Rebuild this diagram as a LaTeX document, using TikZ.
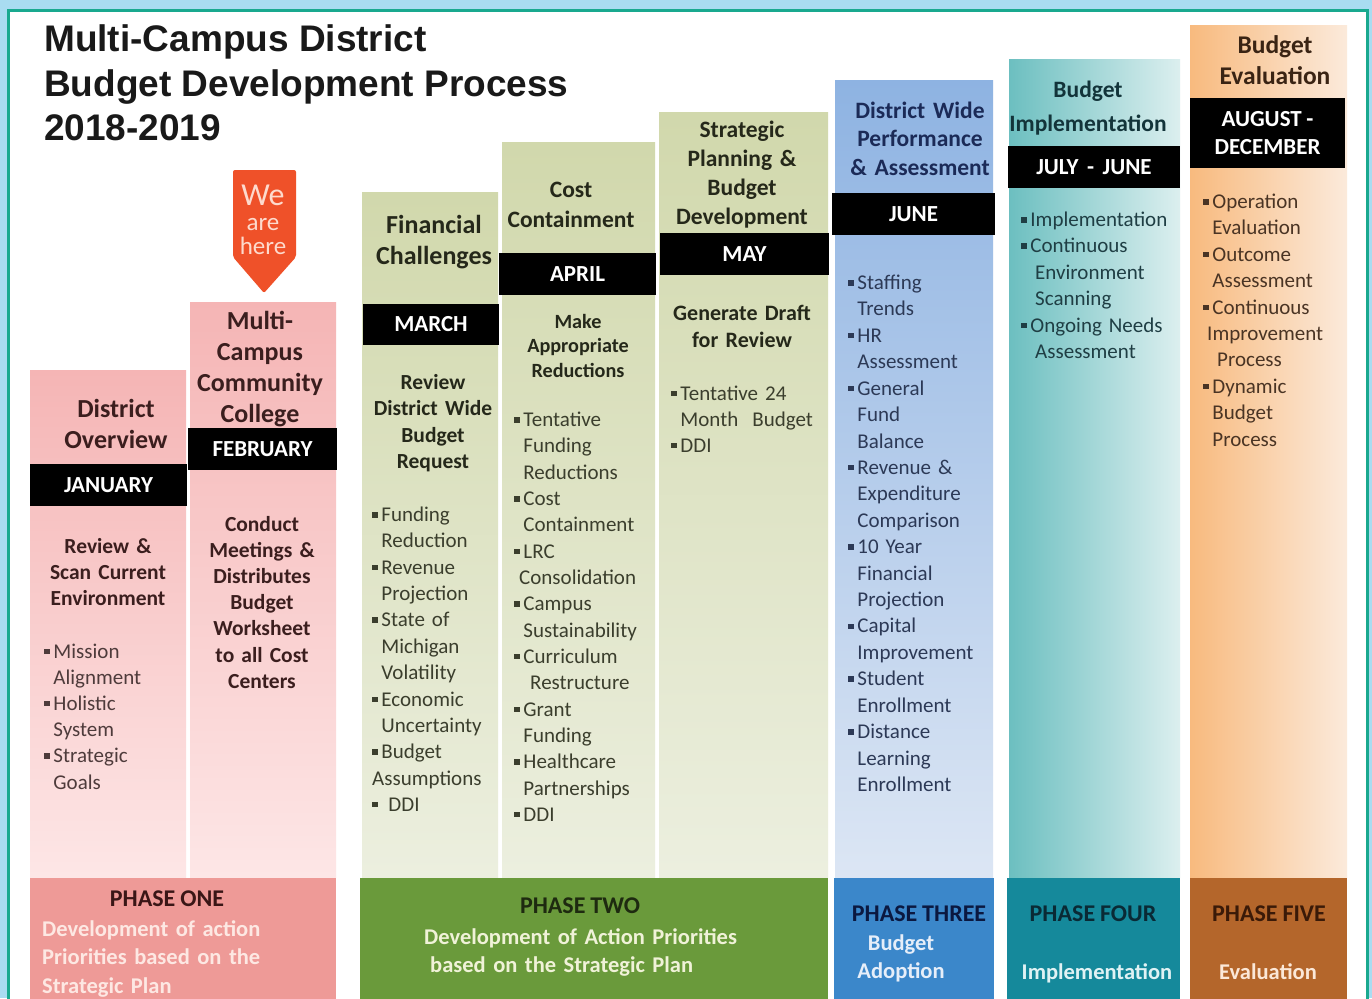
\documentclass[tikz,border=0pt]{standalone}
\usepackage{fontspec}
\setmainfont[WordSpace=0.9]{Carlito}
\newfontfamily\titlefont{Liberation Sans}
\definecolor{bgblue}{HTML}{A9DCF1}
\definecolor{frameteal}{HTML}{19A98F}
\definecolor{pinkT}{HTML}{F5B5B5}
\definecolor{pinkB}{HTML}{FDE6E6}
\definecolor{oliveT}{HTML}{D1D8AC}
\definecolor{oliveB}{HTML}{ECEFDF}
\definecolor{blueT}{HTML}{8EB3E2}
\definecolor{blueB}{HTML}{DCE6F4}
\definecolor{tealL}{HTML}{6CBFC0}
\definecolor{tealR}{HTML}{DCEFEF}
\definecolor{orgL}{HTML}{F8BA7E}
\definecolor{orgR}{HTML}{FBEADB}
\definecolor{ph1}{HTML}{EE9A97}
\definecolor{ph2}{HTML}{6A9A3B}
\definecolor{ph3}{HTML}{3B87CA}
\definecolor{ph4}{HTML}{15899B}
\definecolor{ph5}{HTML}{B4662B}
\definecolor{arrowc}{HTML}{EF5129}
\definecolor{arrowtxt}{HTML}{FDDACD}
\definecolor{txpink}{HTML}{3B1E1E}
\definecolor{lipink}{HTML}{4E3B3B}
\definecolor{txolive}{HTML}{25281A}
\definecolor{liolive}{HTML}{3B3E2D}
\definecolor{txblue}{HTML}{1B2A57}
\definecolor{liblue}{HTML}{2C3956}
\definecolor{txteal}{HTML}{13343A}
\definecolor{liteal}{HTML}{1F3E44}
\definecolor{txorg}{HTML}{3A2414}
\definecolor{liorg}{HTML}{4A3424}
\definecolor{ph1t}{HTML}{3A1616}
\definecolor{ph1s}{HTML}{FDE8E3}
\definecolor{ph2t}{HTML}{1E2A10}
\definecolor{ph2s}{HTML}{F0F2D8}
\definecolor{ph3t}{HTML}{0B1840}
\definecolor{ph3s}{HTML}{E6EEF9}
\definecolor{ph4t}{HTML}{0A2A35}
\definecolor{ph4s}{HTML}{E0F2F4}
\definecolor{ph5t}{HTML}{3A1A08}
\definecolor{ph5s}{HTML}{FBE8D8}
\newcommand\fsz[2]{\fontsize{#1}{#2}\selectfont}
\newcommand\bul{\makebox[0.44em][l]{\raisebox{0.19em}{\rule{0.26em}{0.26em}}}}
\newcommand\ind{\hspace*{0.44em}}
\begin{document}
\begin{tikzpicture}[x=1pt,y=-1pt,
  hdr/.style={anchor=base, align=center, text width=210pt, inner sep=0pt},
  lst/.style={anchor=base west, align=left, text width=200pt, inner sep=0pt},
  monthbar/.style={fill=black, text=white, inner sep=0pt, align=center, font=\bfseries\fsz{23}{28}},
  phtitle/.style={anchor=base, inner sep=0pt, font=\bfseries\fsz{24}{28}},
  phsub/.style={inner sep=0pt, font=\bfseries\fsz{22.5}{28.5}}]
\useasboundingbox (0,0) rectangle (1372,998);
\clip (0,0) rectangle (1372,998);
\fill[bgblue] (0,0) rectangle (1372,998);
\draw[frameteal, fill=white, line width=3pt] (8,11) rectangle (1367,1010);

% title
\node[anchor=base west, inner sep=0pt, text=black!90, font=\titlefont\bfseries\fsz{37}{44}] (t1) at (44,52) {Multi-Campus District};
\node[anchor=base west, inner sep=0pt, text=black!90, font=\titlefont\bfseries\fsz{37}{44}] (t2) at (44,96) {Budget Development Process};
\node[anchor=base west, inner sep=0pt, text=black!90, font=\titlefont\bfseries\fsz{37}{44}] (t3) at (44,140) {2018-2019};

% columns
\shade[top color=pinkT, bottom color=pinkB] (30,370) rectangle (186,877);
\shade[top color=pinkT, bottom color=pinkB] (190,302) rectangle (336,877);
\shade[top color=oliveT, bottom color=oliveB] (362,192) rectangle (498,877);
\shade[top color=oliveT, bottom color=oliveB] (502,142) rectangle (655,877);
\shade[top color=oliveT, bottom color=oliveB] (659,112) rectangle (828,877);
\shade[top color=blueT, bottom color=blueB] (835,80) rectangle (993,877);
\shade[left color=tealL, right color=tealR] (1009,60) rectangle (1180,877);
\shade[left color=orgL, right color=orgR] (1190,26) rectangle (1347,877);

% phase boxes
\fill[ph1] (30,878) rectangle (336,1000);
\fill[ph2] (360,878) rectangle (828,1000);
\fill[ph3] (834,878) rectangle (994,1000);
\fill[ph4] (1007,878) rectangle (1180,1000);
\fill[ph5] (1190,878) rectangle (1347,1000);

% we are here
\fill[arrowc, rounded corners=2pt] (233,170) -- (296,170) -- (296,257) -- (264,293) -- (233,257) -- cycle;
\node[anchor=base, inner sep=0pt, text=arrowtxt, font=\fsz{32}{32}] (we) at (263,205) {We};
\node[anchor=base, inner sep=0pt, text=arrowtxt, font=\fsz{25}{25}] (are) at (263,230) {are};
\node[anchor=base, inner sep=0pt, text=arrowtxt, font=\fsz{25}{25}] (here) at (263,254) {here};

% month bars
\node[monthbar, minimum width=157pt, minimum height=42pt] (jan) at (108.5,485) {JANUARY};
\node[monthbar, minimum width=149pt, minimum height=42pt] (feb) at (262.5,449) {FEBRUARY};
\node[monthbar, minimum width=136pt, minimum height=41pt] (mar) at (431,324.5) {MARCH};
\node[monthbar, minimum width=157pt, minimum height=42pt] (apr) at (577.5,274) {APRIL};
\node[monthbar, minimum width=169pt, minimum height=42pt] (may) at (744.5,254) {MAY};
\node[monthbar, minimum width=163pt, minimum height=42pt] (jun) at (913.5,214) {JUNE};
\node[monthbar, minimum width=172pt, minimum height=42pt] (jul) at (1094,167) {JULY\ \,-\ \,JUNE};
\node[monthbar, minimum width=155pt, minimum height=70pt] (aug) at (1267.5,133) {AUGUST -\\DECEMBER};

% column 1
\node[hdr, text=txpink, font=\bfseries\fsz{26}{31.5}] (h1) at (116,417) {District\\Overview};
\node[hdr, text=txpink, font=\bfseries\fsz{21.5}{26}] (s1) at (108,553) {Review \&\\Scan Current\\Environment};
\node[lst, text=lipink, font=\fsz{21}{26.2}] (l1) at (44,658) {\bul Mission\\ \ind Alignment\\ \bul Holistic\\ \ind System\\ \bul Strategic\\ \ind Goals};

% column 2
\node[hdr, text=txpink, font=\bfseries\fsz{26}{31}] (h2) at (260,329) {Multi-\\Campus\\Community\\College};
\node[hdr, text=txpink, font=\bfseries\fsz{21.5}{26.2}] (s2) at (262,531) {Conduct\\Meetings \&\\Distributes\\Budget\\Worksheet\\to all Cost\\Centers};

% column 3
\node[hdr, text=txolive, font=\bfseries\fsz{26}{31}] (h3) at (434,233) {Financial\\Challenges};
\node[hdr, text=txolive, font=\bfseries\fsz{21.5}{26.6}] (s3) at (433,389) {Review\\District Wide\\Budget\\Request};
\node[lst, text=liolive, font=\fsz{21}{26.36}] (l3) at (372,521.5) {\bul Funding\\ \ind Reduction\\ \bul Revenue\\ \ind Projection\\ \bul State of\\ \ind Michigan\\ \ind Volatility\\ \bul Economic\\ \ind Uncertainty\\ \bul Budget\\ Assumptions\\ \bul\ DDI};

% column 4
\node[hdr, text=txolive, font=\bfseries\fsz{23.5}{30}] (h4) at (571,197) {Cost\\Containment};
\node[hdr, text=txolive, font=\bfseries\fsz{20.2}{24.5}] (s4) at (578,328) {Make\\Appropriate\\Reductions};
\node[lst, text=liolive, font=\fsz{21}{26.33}] (l4) at (514,426.5) {\bul Tentative\\ \ind Funding\\ \ind Reductions\\ \bul Cost\\ \ind Containment\\ \bul LRC\\ \hspace*{5pt}Consolidation\\ \bul Campus\\ \ind Sustainability\\ \bul Curriculum\\ \hspace*{16pt}Restructure\\ \bul Grant\\ \ind Funding\\ \bul Healthcare\\ \ind Partnerships\\ \bul DDI};

% column 5
\node[hdr, text=txolive, font=\bfseries\fsz{23.5}{29}] (h5) at (742,137) {Strategic\\Planning \&\\Budget\\Development};
\node[hdr, text=txolive, font=\bfseries\fsz{22}{27.5}] (s5) at (742,320) {Generate Draft\\for Review};
\node[lst, text=liolive, font=\fsz{21}{26.2}] (l5) at (671,400) {\bul Tentative 24\\ \ind Month\ \ Budget\\ \bul DDI};

% column 6
\node[hdr, text=txblue, font=\bfseries\fsz{23.5}{28.5}] (h6) at (920,118) {District Wide\\Performance\\\& Assessment};
\node[lst, text=liblue, font=\fsz{21}{26.42}] (l6) at (848,289.5) {\bul Staffing\\ \ind Trends\\ \bul HR\\ \ind Assessment\\ \bul General\\ \ind Fund\\ \ind Balance\\ \bul Revenue \&\\ \ind Expenditure\\ \ind Comparison\\ \bul 10 Year\\ \ind Financial\\ \ind Projection\\ \bul Capital\\ \ind Improvement\\ \bul Student\\ \ind Enrollment\\ \bul Distance\\ \ind Learning\\ \ind Enrollment};

% column 7
\node[hdr, text=txteal, font=\bfseries\fsz{23.5}{34}] (h7) at (1088,97) {Budget\\Implementation};
\node[lst, text=liteal, font=\fsz{21}{26.4}] (l7) at (1021,226.5) {\bul Implementation\\ \bul Continuous\\ \hspace*{14pt}Environment\\ \hspace*{14pt}Scanning\\ \bul Ongoing Needs\\ \hspace*{14pt}Assessment};

% column 8
\node[hdr, text=txorg, font=\bfseries\fsz{25.5}{32}] (h8) at (1275,53) {Budget\\Evaluation};
\node[lst, text=liorg, font=\fsz{21}{26.4}] (l8) at (1203,208.5) {\bul Operation\\ \ind Evaluation\\ \bul Outcome\\ \ind Assessment\\ \bul Continuous\\ \hspace*{4pt}Improvement\\ \hspace*{14pt}Process\\ \bul Dynamic\\ \ind Budget\\ \ind Process};

% phase texts
\node[phtitle, text=ph1t] (p1) at (167,906) {PHASE ONE};
\node[phsub, anchor=base west, align=left, text width=290pt, text=ph1s] (p1s) at (42,936) {Development of action\\Priorities based on the\\Strategic Plan};
\node[phtitle, text=ph2t] (p2) at (580,913) {PHASE TWO};
\node[phsub, anchor=base west, align=left, text width=400pt, text=ph2s] (p2s) at (424,944) {Development of Action Priorities\\\hspace*{6pt}based on the Strategic Plan};
\node[phtitle, text=ph3t] (p3) at (919,921) {PHASE THREE};
\node[phsub, anchor=base, align=center, text width=150pt, text=ph3s] (p3s) at (901,950) {Budget\\Adoption};
\node[phtitle, text=ph4t] (p4) at (1093,921) {PHASE FOUR};
\node[phsub, anchor=base, text=ph4s] (p4s) at (1097,979) {Implementation};
\node[phtitle, text=ph5t] (p5) at (1269,921) {PHASE FIVE};
\node[phsub, anchor=base, text=ph5s] (p5s) at (1268,979) {Evaluation};
\end{tikzpicture}
\end{document}
